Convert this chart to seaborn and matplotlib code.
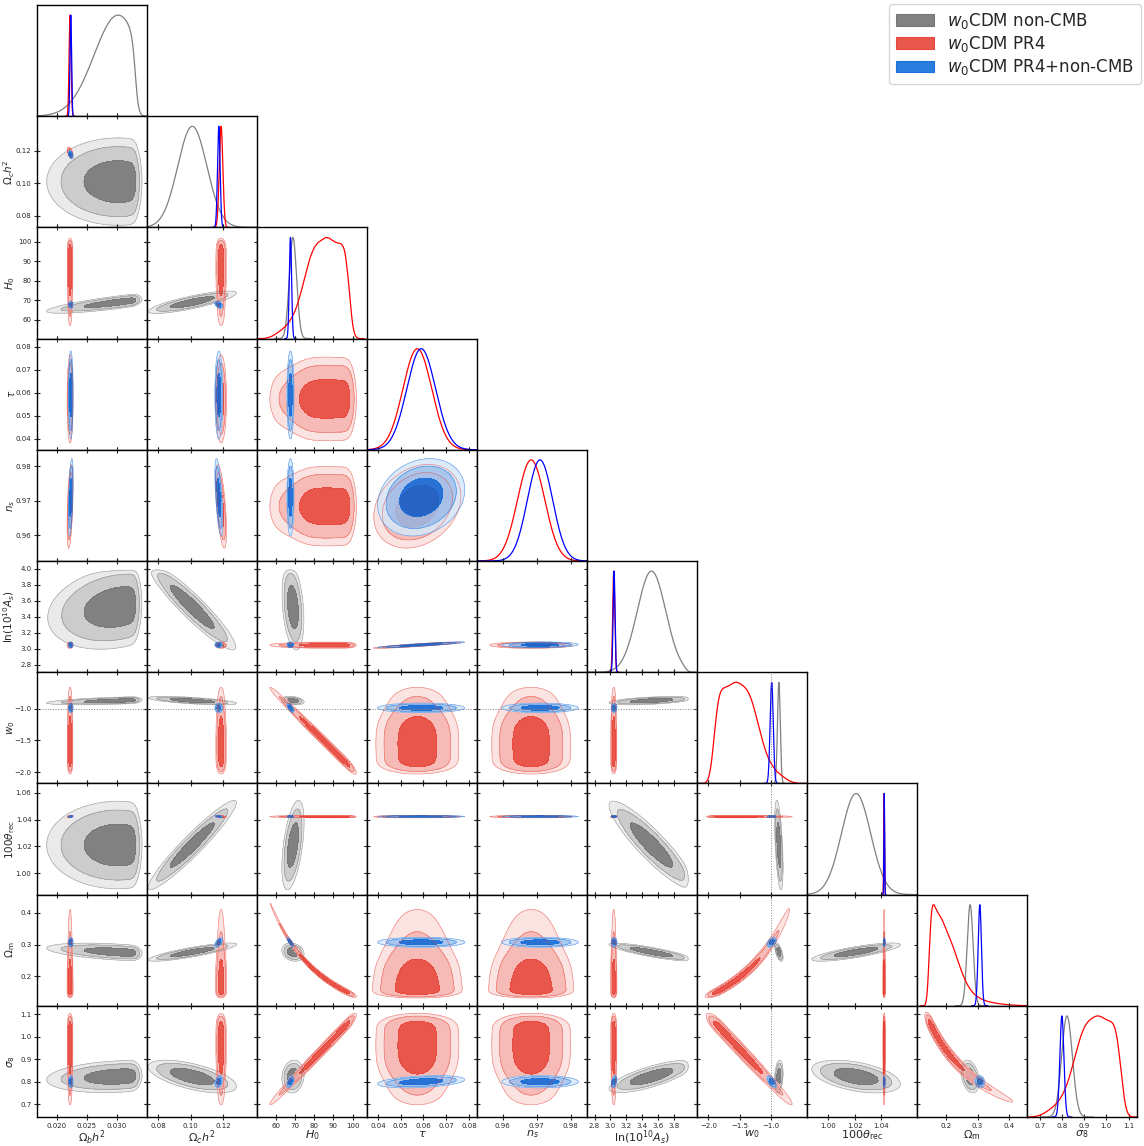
import numpy as np
import matplotlib
matplotlib.use("Agg")
import matplotlib.pyplot as plt
from matplotlib.patches import Patch
import seaborn as sns

# ---------------- triangle layout: parameters, ranges, ticks ----------------
params = ["ombh2", "omch2", "H0", "tau", "ns", "logA", "w0", "theta", "omm", "sig8"]
labels = {
    "ombh2": r"$\Omega_b h^2$", "omch2": r"$\Omega_c h^2$", "H0": r"$H_0$",
    "tau": r"$\tau$", "ns": r"$n_s$", "logA": r"$\ln(10^{10} A_s)$", "w0": r"$w_0$",
    "theta": r"$100\theta_{\rm rec}$", "omm": r"$\Omega_{\rm m}$", "sig8": r"$\sigma_8$",
}
lims = {
    "ombh2": (0.0167, 0.0350), "omch2": (0.0730, 0.1410), "H0": (50.3, 107.5),
    "tau": (0.0352, 0.0835), "ns": (0.9525, 0.9848), "logA": (2.705, 4.095),
    "w0": (-2.18, -0.42), "theta": (0.984, 1.067), "omm": (0.106, 0.458),
    "sig8": (0.643, 1.138),
}
xticks = {
    "ombh2": [0.020, 0.025, 0.030], "omch2": [0.08, 0.10, 0.12],
    "H0": [60, 70, 80, 90, 100], "tau": [0.04, 0.05, 0.06, 0.07, 0.08],
    "ns": [0.96, 0.97, 0.98], "logA": [2.8, 3.0, 3.2, 3.4, 3.6, 3.8],
    "w0": [-2.0, -1.5, -1.0], "theta": [1.00, 1.02, 1.04],
    "omm": [0.2, 0.3, 0.4], "sig8": [0.7, 0.8, 0.9, 1.0, 1.1],
}
yticks = dict(xticks, logA=[2.8, 3.0, 3.2, 3.4, 3.6, 3.8, 4.0],
              theta=[1.00, 1.02, 1.04, 1.06])
tick_fmt = {"ombh2": "%.3f", "omch2": "%.2f", "H0": "%d", "tau": "%.2f", "ns": "%.2f",
            "logA": "%.1f", "w0": "%.1f", "theta": "%.2f", "omm": "%.1f", "sig8": "%.1f"}

# ---------------- w0CDM non-CMB (gray): tau and n_s not constrained ----------------
noncmb_mean = {"ombh2": 0.0302, "omch2": 0.101, "H0": 69.0, "logA": 3.52, "w0": -0.870,
               "theta": 1.021, "omm": 0.276, "sig8": 0.823}
noncmb_sd = {"ombh2": 0.0040, "omch2": 0.0090, "H0": 1.9, "logA": 0.18, "w0": 0.022,
             "theta": 0.011, "omm": 0.0095, "sig8": 0.024}
noncmb_corr = {
    ("ombh2", "H0"): 0.82, ("ombh2", "logA"): 0.25, ("ombh2", "w0"): 0.55,
    ("ombh2", "omm"): -0.45, ("ombh2", "sig8"): 0.2,
    ("omch2", "H0"): 0.82, ("omch2", "logA"): -0.93, ("omch2", "w0"): -0.65,
    ("omch2", "theta"): 0.95, ("omch2", "omm"): 0.85, ("omch2", "sig8"): -0.6,
    ("H0", "logA"): -0.3, ("H0", "w0"): -0.3, ("H0", "theta"): 0.5,
    ("H0", "omm"): -0.2, ("H0", "sig8"): 0.1,
    ("logA", "w0"): 0.5, ("logA", "theta"): -0.9, ("logA", "omm"): -0.85,
    ("logA", "sig8"): 0.75, ("w0", "theta"): -0.5, ("w0", "omm"): -0.6,
    ("w0", "sig8"): 0.2, ("theta", "omm"): 0.8, ("theta", "sig8"): -0.45,
    ("omm", "sig8"): -0.3,
}
noncmb_cut = {"ombh2": 0.0331, "logA": 3.97}   # upper prior edges

# ---------------- w0CDM PR4 (red): CMB only, long H0 degeneracy ----------------
pr4_mean = {"ombh2": 0.02220, "omch2": 0.1188, "tau": 0.0573, "ns": 0.9684,
            "logA": 3.043, "theta": 1.0422}
pr4_sd = {"ombh2": 0.00016, "omch2": 0.0011, "tau": 0.0063, "ns": 0.0040,
          "logA": 0.013, "theta": 0.0003}
pr4_corr = {("ombh2", "omch2"): -0.45, ("ombh2", "ns"): 0.45, ("omch2", "ns"): -0.6,
            ("tau", "logA"): 0.9, ("tau", "ns"): 0.25, ("omch2", "theta"): -0.3,
            ("ombh2", "theta"): 0.3}
# 1D H0 posterior
pr4_h0_nodes = [54, 56, 58, 60, 62, 64, 66, 68, 70, 72, 74, 76, 78, 80, 82, 84, 86,
                88, 90, 92, 94, 96, 98, 100, 102]
pr4_h0_post = [0.0, 0.01, 0.02, 0.045, 0.07, 0.10, 0.135, 0.19, 0.26, 0.37, 0.51,
               0.66, 0.80, 0.89, 0.94, 0.96, 0.99, 0.98, 0.95, 0.93, 0.93, 0.89,
               0.55, 0.08, 0.0]
pr4_omm_h2 = 0.141                         # Omega_m h^2 along the degeneracy
pr4_sig8_line = (68.0, 0.797, 0.00886)     # (H0, sigma8, dsigma8/dH0)
pr4_w0_line = (67.5, -0.98, -0.030)        # (H0, w0, dw0/dH0)
pr4_scatter = {"omm": 0.0035, "sig8": 0.010, "w0": 0.03}

# ---------------- w0CDM PR4+non-CMB (blue) ----------------
comb_mean = {"ombh2": 0.02232, "omch2": 0.1174, "H0": 67.7, "tau": 0.0590, "ns": 0.9710,
             "logA": 3.047, "w0": -0.985, "theta": 1.0423, "omm": 0.307, "sig8": 0.800}
comb_sd = {"ombh2": 0.00013, "omch2": 0.0008, "H0": 0.6, "tau": 0.0063, "ns": 0.0037,
           "logA": 0.012, "w0": 0.025, "theta": 0.00025, "omm": 0.0052, "sig8": 0.009}
comb_corr = {
    ("ombh2", "omch2"): -0.4, ("ombh2", "ns"): 0.45, ("omch2", "ns"): -0.6,
    ("omch2", "H0"): -0.4, ("omch2", "omm"): 0.6, ("H0", "omm"): -0.85,
    ("H0", "w0"): -0.7, ("w0", "omm"): 0.45, ("H0", "sig8"): 0.5,
    ("w0", "sig8"): -0.6, ("omm", "sig8"): -0.1, ("tau", "logA"): 0.9,
    ("tau", "ns"): 0.2, ("omch2", "sig8"): 0.3, ("logA", "sig8"): 0.4,
    ("tau", "sig8"): 0.35, ("omch2", "theta"): -0.3, ("ombh2", "theta"): 0.3,
    ("ns", "logA"): 0.1,
}

names = [r"$w_0$CDM non-CMB", r"$w_0$CDM PR4", r"$w_0$CDM PR4+non-CMB"]

H0_SMOOTH = 1.2
FILL_ALPHA = 0.85
MASS = [0.99, 0.95, 0.68]


# ---------------- simple models ----------------
def gaussian_model(mean, sd, corr, cut=None):
    comp = {"w": 1.0, "mu": dict(mean), "load": {p: 0.0 for p in mean}, "sd": dict(sd)}
    return {"comps": [comp], "corr": corr, "cut": cut or {}, "lat": 0.0, "params": list(mean)}


def pr4_model():
    w = np.array(pr4_h0_post, float)
    w = w / w.sum()
    comps = []
    for hk, wk in zip(pr4_h0_nodes, w):
        if wk <= 0:
            continue
        mu, sd = dict(pr4_mean), dict(pr4_sd)
        load = {p: 0.0 for p in pr4_mean}
        mu["H0"], load["H0"], sd["H0"] = hk, 1.0, 0.0
        mu["omm"] = pr4_omm_h2 / (hk / 100.0) ** 2
        load["omm"] = -2 * pr4_omm_h2 * 1e4 / hk ** 3
        sd["omm"] = pr4_scatter["omm"]
        h_a, s_a, ds = pr4_sig8_line
        mu["sig8"], load["sig8"], sd["sig8"] = s_a + ds * (hk - h_a), ds, pr4_scatter["sig8"]
        h_a, w_a, dw = pr4_w0_line
        mu["w0"], load["w0"], sd["w0"] = w_a + dw * (hk - h_a), dw, pr4_scatter["w0"]
        comps.append({"w": wk, "mu": mu, "load": load, "sd": sd})
    return {"comps": comps, "corr": pr4_corr, "cut": {}, "lat": H0_SMOOTH, "params": params}


def corr_of(m, a, b):
    return m["corr"].get((a, b), m["corr"].get((b, a), 0.0))


def var_of(m, c, p):
    return (c["load"][p] * m["lat"]) ** 2 + c["sd"][p] ** 2


def window(m, p, x):
    if p not in m["cut"]:
        return 1.0
    lo, hi = lims[p]
    return 1.0 / (1.0 + np.exp((x - m["cut"][p]) / (0.015 * (hi - lo))))


def grid_range(m, p):
    lo = min(c["mu"][p] - 5 * np.sqrt(var_of(m, c, p)) for c in m["comps"])
    hi = max(c["mu"][p] + 5 * np.sqrt(var_of(m, c, p)) for c in m["comps"])
    a, b = lims[p]
    pad = 0.08 * (b - a)
    return max(lo, a - pad), min(hi, b + pad)


def density2d(m, a, b, X, Y):
    r = corr_of(m, a, b)
    lat2 = m["lat"] ** 2
    Z = np.zeros_like(X)
    for c in m["comps"]:
        la, lb, sa, sb = c["load"][a], c["load"][b], c["sd"][a], c["sd"][b]
        vaa = la * la * lat2 + sa * sa
        vbb = lb * lb * lat2 + sb * sb
        vab = la * lb * lat2 + r * sa * sb
        det = vaa * vbb - vab * vab
        dx, dy = X - c["mu"][a], Y - c["mu"][b]
        q = (vbb * dx * dx - 2 * vab * dx * dy + vaa * dy * dy) / det
        Z += c["w"] * np.exp(-0.5 * q) / np.sqrt(det)
    return Z * window(m, a, X) * window(m, b, Y)


def density1d(m, p, x):
    y = np.zeros_like(x)
    for c in m["comps"]:
        v = var_of(m, c, p)
        y += c["w"] * np.exp(-0.5 * (x - c["mu"][p]) ** 2 / v) / np.sqrt(v)
    y = y * window(m, p, x)
    return y / y.max()


def mass_levels(Z):
    z = np.sort(Z.ravel())[::-1]
    cum = np.cumsum(z)
    cum /= cum[-1]
    return [z[min(np.searchsorted(cum, f), len(z) - 1)] for f in MASS]


def shades(base):
    base = np.array(base)
    mid = base * 0.4 + 0.6
    out = mid * 0.4 + 0.6
    return [tuple(out), tuple(mid), tuple(base)]


models = [
    gaussian_model(noncmb_mean, noncmb_sd, noncmb_corr, noncmb_cut),
    pr4_model(),
    gaussian_model(comb_mean, comb_sd, comb_corr),
]
fill_colors = [(0.42, 0.42, 0.42), (0.90, 0.22, 0.17), (0.02, 0.40, 0.85)]
line_colors = ["gray", "red", "blue"]


def draw2d(ax, m, base, a, b):
    if a not in m["params"] or b not in m["params"]:
        return
    xg = np.linspace(*grid_range(m, a), 320)
    yg = np.linspace(*grid_range(m, b), 320)
    X, Y = np.meshgrid(xg, yg)
    Z = density2d(m, a, b, X, Y)
    lv = mass_levels(Z)
    ax.contourf(X, Y, Z, levels=lv + [Z.max() * 1.01], colors=shades(base), alpha=FILL_ALPHA)
    ax.contour(X, Y, Z, levels=lv[:2], colors=[base], linewidths=0.5, alpha=0.5)


def fmt_ticks(p, ticks):
    return [(tick_fmt[p] % t).replace("-", "\u2212") for t in ticks]


# ---------------- figure ----------------
sns.set_style("ticks")
plt.rcParams["font.family"] = ["DejaVu Sans"]
plt.rcParams["axes.linewidth"] = 1.0

fig = plt.figure(figsize=(11.44, 11.46), dpi=100)
n = len(params)
left, bottom = 37 / 1144, 1 - 1117 / 1146
pw, ph = 110 / 1144, 111.2 / 1146

for i in range(n):
    for j in range(i + 1):
        ax = fig.add_axes([left + j * pw, bottom + (n - 1 - i) * ph, pw, ph])
        px, py = params[j], params[i]
        ax.set_xlim(lims[px])
        ax.set_xticks(xticks[px])
        ax.set_xticklabels(fmt_ticks(px, xticks[px]))
        if i == j:
            for m, lc in zip(models, line_colors):
                if px not in m["params"]:
                    continue
                xs = np.linspace(*grid_range(m, px), 800)
                sns.lineplot(x=xs, y=density1d(m, px, xs), ax=ax, color=lc,
                             linewidth=0.9, estimator=None, sort=False, legend=False)
            ax.set_ylim(0, 1.1)
            ax.set_yticks([])
            ax.set_ylabel("")
            ax.tick_params(axis="x", direction="inout", length=5, width=0.8,
                           labelsize=5, pad=1.5, bottom=True, top=False)
            if px == "w0":
                ax.axvline(-1.0, color="gray", ls=":", lw=0.7, zorder=5)
        else:
            for m, base in zip(models, fill_colors):
                draw2d(ax, m, base, px, py)
            ax.set_ylim(lims[py])
            ax.set_yticks(yticks[py])
            ax.set_yticklabels(fmt_ticks(py, yticks[py]))
            ax.tick_params(direction="inout", length=5, width=0.8, labelsize=5, pad=1.5,
                           top=True, right=True, bottom=True, left=True)
            if py == "w0":
                ax.axhline(-1.0, color="gray", ls=":", lw=0.7, zorder=5)
            if px == "w0":
                ax.axvline(-1.0, color="gray", ls=":", lw=0.7, zorder=5)
            if j == 0:
                ax.set_ylabel(labels[py], fontsize=7.5)
                ax.yaxis.set_label_coords(-0.185, 0.5)
            else:
                ax.tick_params(labelleft=False)
        ax.set_xlabel("")
        if i == n - 1:
            ax.set_xlabel(labels[px], fontsize=8)
            ax.xaxis.set_label_coords(0.5, -0.105)
        else:
            ax.tick_params(labelbottom=False)
        for s in ax.spines.values():
            s.set_visible(True)
            s.set_linewidth(1.0)
            s.set_color("black")

handles = [Patch(facecolor=c, edgecolor=c, alpha=FILL_ALPHA, linewidth=0.8) for c in fill_colors]
fig.legend(handles, names, loc="upper right", bbox_to_anchor=(1141 / 1144, 1 - 4 / 1146),
           fontsize=12, frameon=True, borderaxespad=0.0, labelspacing=0.2,
           handlelength=2.3)

fig.savefig("out.png", dpi=100)
